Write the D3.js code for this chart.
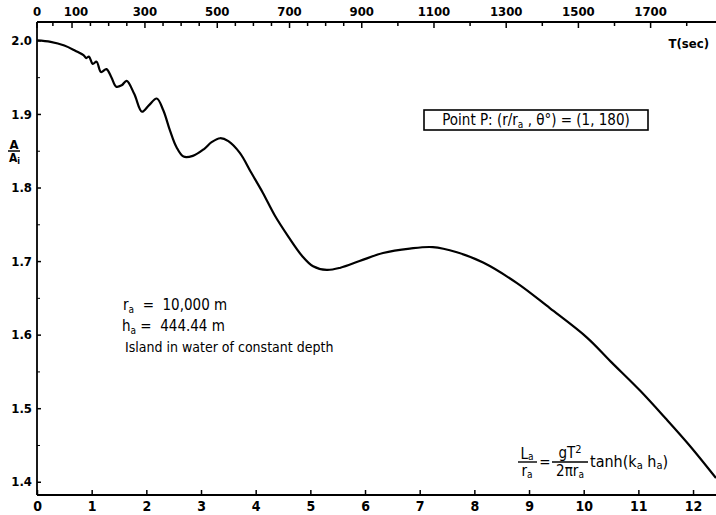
<!DOCTYPE html>
<html>
<head>
<meta charset="utf-8">
<script src="https://cdn.jsdelivr.net/npm/d3@7"></script>
<style>
  body { margin: 0; background: #fff; }
  text { font-family: "DejaVu Sans Condensed", "DejaVu Sans", sans-serif; fill: #000; white-space: pre; }
</style>
</head>
<body>
<div id="chart"></div>
<script>
// Data: L_a/r_a on the bottom axis, A/A_i on the left
var lengthRatio = [0, 0.25, 0.5, 0.7, 0.85, 0.9, 0.95, 1.02, 1.09, 1.17, 1.27, 1.36, 1.45, 1.55, 1.64,
                   1.78, 1.92, 2.05, 2.19, 2.31, 2.43, 2.55, 2.68, 2.85, 3.05, 3.2, 3.35, 3.5, 3.71,
                   3.92, 4.13, 4.35, 4.6, 4.85, 5.05, 5.3, 5.55, 5.9, 6.33, 6.82, 7.24, 7.68, 8.16,
                   8.78, 9.38, 10.06, 10.5, 11.03, 11.5, 11.94, 12.42];
var amplitude = [2.0, 1.998, 1.993, 1.986, 1.980, 1.976, 1.978, 1.968, 1.971, 1.957, 1.961, 1.950, 1.937, 1.939, 1.945,
                 1.927, 1.903, 1.912, 1.921, 1.905, 1.878, 1.855, 1.842, 1.843, 1.852, 1.862, 1.867, 1.863, 1.847,
                 1.820, 1.793, 1.762, 1.733, 1.707, 1.693, 1.688, 1.691, 1.700, 1.711, 1.717, 1.719, 1.712, 1.698,
                 1.670, 1.636, 1.596, 1.563, 1.524, 1.486, 1.449, 1.405];

var xTicks = [0, 1, 2, 3, 4, 5, 6, 7, 8, 9, 10, 11, 12];
var yMajor = [1.4, 1.5, 1.6, 1.7, 1.8, 1.9, 2.0];
var yMinor = [1.45, 1.55, 1.65, 1.75, 1.85, 1.95];
var periodLabels = [0, 100, 300, 500, 700, 900, 1100, 1300, 1500, 1700];
var periodTicks = [0, 50, 100, 150, 200, 250, 300, 350, 400, 450, 500, 550, 600, 650, 700, 750, 800, 850, 900,
                   1000, 1100, 1200, 1300, 1400, 1500, 1600, 1700, 1800];

var ra = 10000, ha = 444.44, g = 9.81;

var width = 716, height = 515;
var plotLeft = 37, plotRight = 716, plotTop = 22, plotBottom = 495;

var svg = d3.select("#chart").append("svg")
    .attr("width", width)
    .attr("height", height);

svg.append("rect").attr("width", width).attr("height", height).attr("fill", "#fff");

var x = d3.scaleLinear().domain([0, 12.42]).range([plotLeft, plotRight]);
var y = d3.scaleLinear().domain([1.382, 2.025]).range([plotBottom, plotTop]);

// wave length for a given period from the dispersion relation, as L/r_a
function lengthFromPeriod(T) {
    if (T === 0) return 0;
    var w = 2 * Math.PI / T;
    var k = w / Math.sqrt(g * ha);
    for (var i = 0; i < 200; i++) {
        k = 0.5 * k + 0.5 * (w * w / (g * Math.tanh(k * ha)));
    }
    return (2 * Math.PI / k) / ra;
}

// frame lines
svg.append("line").attr("x1", plotLeft).attr("x2", plotLeft).attr("y1", plotTop).attr("y2", plotBottom)
    .attr("stroke", "#000").attr("stroke-width", 1.8);
svg.append("line").attr("x1", plotLeft).attr("x2", plotRight).attr("y1", plotTop).attr("y2", plotTop)
    .attr("stroke", "#000").attr("stroke-width", 1.8);
svg.append("line").attr("x1", plotLeft).attr("x2", plotRight).attr("y1", plotBottom).attr("y2", plotBottom)
    .attr("stroke", "#000").attr("stroke-width", 1.8);

// bottom axis
var xAxis = svg.append("g")
    .attr("transform", "translate(0," + plotBottom + ")")
    .call(d3.axisBottom(x).tickValues(xTicks).tickSize(-5).tickPadding(6).tickFormat(d3.format("d")));
xAxis.select(".domain").remove();
xAxis.selectAll("line").attr("stroke-width", 1.5);
xAxis.selectAll("text").attr("font-size", "14px").attr("font-weight", "bold");

// left axis
var yAxis = svg.append("g")
    .attr("transform", "translate(" + plotLeft + ",0)")
    .call(d3.axisLeft(y).tickValues(yMajor).tickSize(-4).tickPadding(5).tickFormat(d3.format(".1f")));
yAxis.select(".domain").remove();
yAxis.selectAll("line").attr("stroke-width", 1.5);
yAxis.selectAll("text").attr("font-size", "13px").attr("font-weight", "bold");

var yAxisMinor = svg.append("g")
    .attr("transform", "translate(" + plotLeft + ",0)")
    .call(d3.axisLeft(y).tickValues(yMinor).tickSize(-3).tickFormat(""));
yAxisMinor.select(".domain").remove();

// top axis: period T mapped through the dispersion relation
var topAxis = svg.append("g");
topAxis.selectAll("line")
    .data(periodTicks)
    .enter()
    .append("line")
    .attr("x1", d => x(lengthFromPeriod(d)))
    .attr("x2", d => x(lengthFromPeriod(d)))
    .attr("y1", plotTop)
    .attr("y2", d => plotTop + (periodLabels.indexOf(d) >= 0 ? 6 : 4))
    .attr("stroke", "#000")
    .attr("stroke-width", 1.5);
topAxis.selectAll("text")
    .data(periodLabels)
    .enter()
    .append("text")
    .text(d => d)
    .attr("x", d => x(lengthFromPeriod(d)) + (d === 100 ? 4 : 0))
    .attr("y", 16)
    .attr("text-anchor", "middle")
    .attr("font-size", "13px")
    .attr("font-weight", "bold");

svg.append("text").text("T(sec)")
    .attr("x", 709).attr("y", 48).attr("text-anchor", "end")
    .attr("font-size", "13px").attr("font-weight", "bold");

// y axis title A / A_i
svg.append("text").text("A").attr("x", 14).attr("y", 149).attr("text-anchor", "middle")
    .attr("font-size", "13px").attr("font-weight", "bold");
svg.append("line").attr("x1", 8).attr("x2", 20).attr("y1", 151).attr("y2", 151)
    .attr("stroke", "#000").attr("stroke-width", 1.5);
var ai = svg.append("text").attr("x", 9).attr("y", 162)
    .attr("font-size", "12px").attr("font-weight", "bold");
ai.append("tspan").text("A");
ai.append("tspan").text("i").attr("font-size", "9px").attr("dy", 2);

// the curve
var points = lengthRatio.map((d, i) => [d, amplitude[i]]);
var line = d3.line()
    .x(d => x(d[0]))
    .y(d => y(d[1]))
    .curve(d3.curveCatmullRom.alpha(0.5));

svg.append("path")
    .datum(points)
    .attr("d", line)
    .attr("fill", "none")
    .attr("stroke", "#000")
    .attr("stroke-width", 2.2);

// boxed point label
svg.append("rect").attr("x", 424).attr("y", 110).attr("width", 224).attr("height", 20)
    .attr("fill", "#fff").attr("stroke", "#000").attr("stroke-width", 1.6);
var pt = svg.append("text").attr("x", 536).attr("y", 125).attr("text-anchor", "middle")
    .attr("font-size", "15px");
pt.append("tspan").text("Point P: (r/r");
pt.append("tspan").text("a").attr("font-size", "10px").attr("dy", 3);
pt.append("tspan").text(" , θ°) = (1, 180)").attr("dy", -3);

// site description
var t1 = svg.append("text").attr("x", 123).attr("y", 310).attr("font-size", "15px");
t1.append("tspan").text("r");
t1.append("tspan").text("a").attr("font-size", "10px").attr("dy", 3);
t1.append("tspan").text("  =  10,000 m").attr("dy", -3);
var t2 = svg.append("text").attr("x", 122).attr("y", 331).attr("font-size", "15px");
t2.append("tspan").text("h");
t2.append("tspan").text("a").attr("font-size", "10px").attr("dy", 3);
t2.append("tspan").text(" =  444.44 m").attr("dy", -3);
svg.append("text").text("Island in water of constant depth")
    .attr("x", 125).attr("y", 352).attr("font-size", "14px");

// formula L_a/r_a = gT^2/(2 pi r_a) tanh(k_a h_a)
var f = svg.append("g").attr("font-size", "15px");
var num1 = f.append("text").attr("x", 527).attr("y", 459).attr("text-anchor", "middle");
num1.append("tspan").text("L");
num1.append("tspan").text("a").attr("font-size", "10px").attr("dy", 1);
f.append("line").attr("x1", 518).attr("x2", 537).attr("y1", 462).attr("y2", 462)
    .attr("stroke", "#000").attr("stroke-width", 1.4);
var den1 = f.append("text").attr("x", 527).attr("y", 476).attr("text-anchor", "middle");
den1.append("tspan").text("r");
den1.append("tspan").text("a").attr("font-size", "10px").attr("dy", 2);
f.append("text").text("=").attr("x", 545).attr("y", 467).attr("text-anchor", "middle");
var num2 = f.append("text").attr("x", 570).attr("y", 458).attr("text-anchor", "middle");
num2.append("tspan").text("gT");
num2.append("tspan").text("2").attr("font-size", "11px").attr("dy", -5);
f.append("line").attr("x1", 552).attr("x2", 588).attr("y1", 462).attr("y2", 462)
    .attr("stroke", "#000").attr("stroke-width", 1.4);
var den2 = f.append("text").attr("x", 570).attr("y", 476).attr("text-anchor", "middle");
den2.append("tspan").text("2πr");
den2.append("tspan").text("a").attr("font-size", "10px").attr("dy", 2);
var th = f.append("text").attr("x", 590).attr("y", 467).attr("font-size", "16px");
th.append("tspan").text("tanh(k");
th.append("tspan").text("a").attr("font-size", "11px").attr("dy", 2);
th.append("tspan").text(" h").attr("dy", -2);
th.append("tspan").text("a").attr("font-size", "11px").attr("dy", 2);
th.append("tspan").text(")").attr("dy", -2);
</script>
</body>
</html>
